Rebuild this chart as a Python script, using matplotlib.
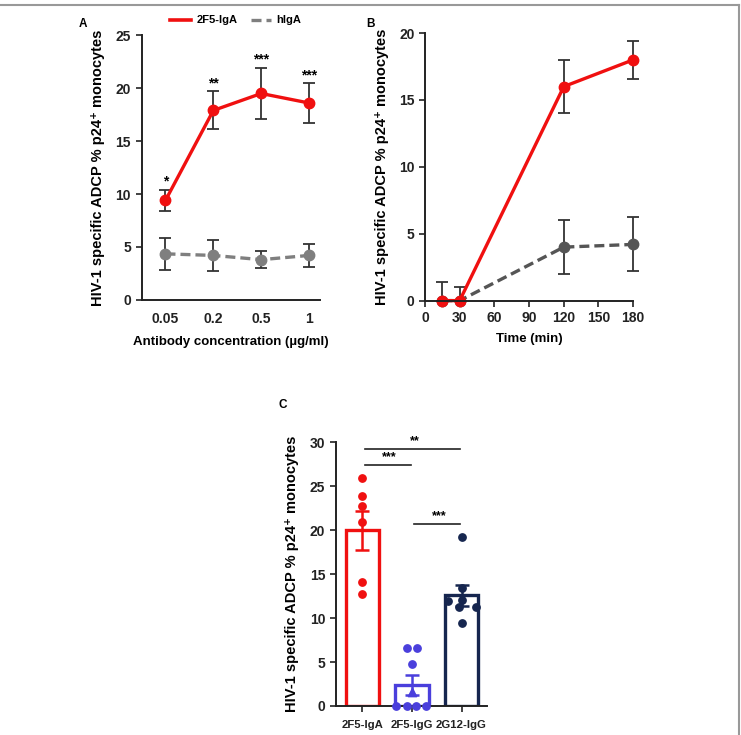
import matplotlib
matplotlib.use("Agg")
from matplotlib import pyplot as plt
from matplotlib.lines import Line2D

plt.rcParams['font.family'] = ['Liberation Sans', 'DejaVu Sans']
plt.rcParams['font.weight'] = 'bold'

# panel A data
conc_labels = ["0.05", "0.2", "0.5", "1"]
a_iga = [9.4, 17.9, 19.5, 18.6]
a_iga_err = [1.0, 1.8, 2.45, 1.85]
a_higa = [4.35, 4.2, 3.8, 4.2]
a_higa_err = [1.5, 1.45, 0.8, 1.05]
a_stars = ["*", "**", "***", "***"]

# panel B data
time_min = [15, 30, 120, 180]
b_iga = [0, 0, 16.0, 18.0]
b_iga_err = [0, 0, 2.0, 1.4]
b_higa = [0, 0, 4.0, 4.2]
b_higa_err_lo = [0, 0, 2.0, 2.0]
b_higa_err_hi = [1.4, 1.0, 2.0, 2.05]

# panel C data
groups = ["2F5-IgA", "2F5-IgG", "2G12-IgG"]
c_means = [20.0, 2.4, 12.6]
c_sem = [2.25, 1.1, 1.2]
c_pts_iga = [26.0, 23.9, 22.8, 21.0, 14.1, 12.8]
c_pts_iga_dx = [0, 0, 0, 0, 0, 0]
c_pts_igg = [6.6, 6.6, 4.8, 0, 0, 0, 0]
c_pts_igg_dx = [-0.1, 0.1, 0, -0.32, -0.11, 0.09, 0.29]
c_igg_tri = 1.6
c_pts_2g12 = [19.2, 13.4, 12.0, 12.1, 11.3, 11.3, 9.4]
c_pts_2g12_dx = [0, 0, -0.28, 0, -0.05, 0.3, 0]
c_sig = [(0, 2, 29.3, "**"), (0, 1, 27.4, "***"), (1, 2, 20.7, "***")]

RED = "#f01010"
GRAY_A = "#7f7f7f"
GRAY_B = "#555555"
BLUE = "#4a3fdc"
NAVY = "#16264f"
AX = "#222222"

fig = plt.figure(figsize=(7.41, 7.35), dpi=100)

ylab = "HIV-1 specific ADCP % p24\u207a monocytes"


def style(ax):
    for s in ["top", "right"]:
        ax.spines[s].set_visible(False)
    for s in ["left", "bottom"]:
        ax.spines[s].set_linewidth(1.4)
        ax.spines[s].set_color(AX)
    ax.tick_params(direction="out", length=4, width=1.2, colors=AX, labelsize=10)
    for lab in ax.get_xticklabels() + ax.get_yticklabels():
        lab.set_fontweight("bold")


# ---- panel A
axA = fig.add_axes([0.191, 0.592, 0.241, 0.360])
xa = range(len(conc_labels))
axA.errorbar(xa, a_higa, yerr=a_higa_err, color=GRAY_A, ls=(0, (3, 1.5)), lw=2.4,
             marker="o", ms=7.5, ecolor="#333333", elinewidth=1.3, capsize=4, capthick=1.3)
axA.errorbar(xa, a_iga, yerr=a_iga_err, color=RED, lw=2.4,
             marker="o", ms=7.5, ecolor="#333333", elinewidth=1.3, capsize=4, capthick=1.3)
for i, s in enumerate(a_stars):
    axA.text(i, a_iga[i] + a_iga_err[i] + 0.1, s, ha="center", va="bottom",
             fontsize=10, fontweight="bold")
axA.set_xlim(-0.5, 3.23)
axA.set_ylim(0, 25)
axA.set_yticks([0, 5, 10, 15, 20, 25])
axA.set_xticks(list(xa))
axA.set_xticklabels(conc_labels)
axA.set_ylabel(ylab, fontsize=10.5, fontweight="bold", labelpad=8)
axA.set_xlabel("Antibody concentration (\u00b5g/ml)", fontsize=9.5, fontweight="bold", labelpad=7)
style(axA)
axA.tick_params(axis="x", length=0, pad=9)

# ---- panel B
axB = fig.add_axes([0.5735, 0.591, 0.281, 0.364])
axB.errorbar(time_min, b_higa, yerr=[b_higa_err_lo, b_higa_err_hi], color=GRAY_B,
             ls=(0, (3, 1.5)), lw=2.4, marker="o", ms=7.5, ecolor="#333333",
             elinewidth=1.3, capsize=4, capthick=1.3, clip_on=False)
axB.errorbar(time_min, b_iga, yerr=b_iga_err, color=RED, lw=2.4,
             marker="o", ms=7.5, ecolor="#333333", elinewidth=1.3, capsize=4, capthick=1.3,
             clip_on=False)
axB.set_xlim(0, 180)
axB.set_ylim(0, 20)
axB.set_xticks(range(0, 181, 30))
axB.set_yticks([0, 5, 10, 15, 20])
axB.set_ylabel(ylab, fontsize=10.5, fontweight="bold", labelpad=7)
axB.set_xlabel("Time (min)", fontsize=9.5, fontweight="bold", labelpad=6)
style(axB)

# legend on top, drawn by hand in figure coords
ly = 1 - 20 / 735
fig.add_artist(Line2D([170 / 741, 191 / 741], [ly, ly], color=RED, lw=2.6))
fig.text(197 / 741, ly, "2F5-IgA", fontsize=8, fontweight="bold", va="center")
fig.add_artist(Line2D([251 / 741, 271 / 741], [ly, ly], color=GRAY_A, lw=2.4,
                      ls=(0, (3, 1.5))))
fig.text(276 / 741, ly, "hIgA", fontsize=8, fontweight="bold", va="center")

fig.text(0.112, 0.968, "A", fontsize=8.5, fontweight="bold", ha="center", va="center")
fig.text(0.5, 0.968, "B", fontsize=8.5, fontweight="bold", ha="center", va="center")
fig.text(0.381, 0.449, "C", fontsize=8.5, fontweight="bold", ha="center", va="center")

# ---- panel C
axC = fig.add_axes([0.453, 0.0395, 0.204, 0.3585])
colors = [RED, BLUE, NAVY]
xc = range(len(groups))
for i in xc:
    axC.bar(i, c_means[i], width=0.67, facecolor="none", edgecolor=colors[i], lw=2.4)
    axC.errorbar(i, c_means[i], yerr=c_sem[i], color=colors[i], elinewidth=1.8,
                 capsize=5, capthick=1.8)
pts = [(c_pts_iga, c_pts_iga_dx), (c_pts_igg, c_pts_igg_dx), (c_pts_2g12, c_pts_2g12_dx)]
for i, (vals, dxs) in enumerate(pts):
    axC.scatter([i + d for d in dxs], vals, s=28, color=colors[i], zorder=4, clip_on=False)
axC.scatter([1], [c_igg_tri], marker="^", s=36, color=BLUE, zorder=4)
for a, b, y, s in c_sig:
    axC.plot([a + 0.05, b - 0.03], [y, y], color="#222222", lw=1.2)
    axC.text((a + b) / 2 + 0.05, y + 0.2, s, ha="center", va="bottom", fontsize=9,
             fontweight="bold")
axC.set_xlim(-0.54, 2.51)
axC.set_ylim(0, 30)
axC.set_yticks([0, 5, 10, 15, 20, 25, 30])
axC.set_xticks(list(xc))
axC.set_xticklabels(groups)
axC.set_ylabel(ylab, fontsize=10.5, fontweight="bold", labelpad=8)
style(axC)
axC.tick_params(axis="x", labelsize=8.2, pad=6)

# thin gray frame lines (top and right)
fig.add_artist(Line2D([0, 0.997], [0.993, 0.993], color="#999999", lw=1.5))
fig.add_artist(Line2D([0.997, 0.997], [0, 0.993], color="#999999", lw=1.5))

fig.savefig("out.png", dpi=100)
